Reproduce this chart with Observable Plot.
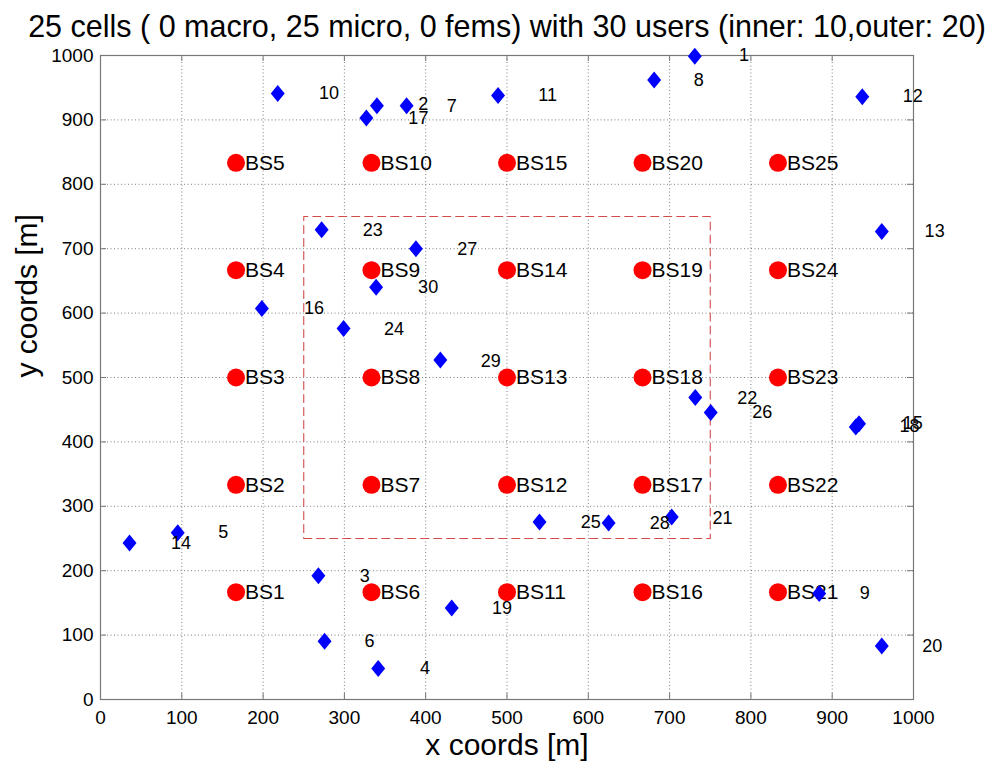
<!DOCTYPE html>
<html>
<head>
<meta charset="utf-8">
<script src="https://cdn.jsdelivr.net/npm/d3@7"></script>
<script src="https://cdn.jsdelivr.net/npm/@observablehq/plot@0.6"></script>
<style>
  html, body { margin: 0; padding: 0; background: #fff; }
  #chart { width: 1008px; height: 764px; }
</style>
</head>
<body>
<div id="chart"></div>
<script>
// Title and axis labels
const titleText = "25 cells ( 0 macro, 25 micro, 0 fems) with 30 users (inner: 10,outer: 20)";
const xLabel = "x coords [m]";
const yLabel = "y coords [m]";

// Axis ticks
const xTicks = [0, 100, 200, 300, 400, 500, 600, 700, 800, 900, 1000];
const yTicks = [0, 100, 200, 300, 400, 500, 600, 700, 800, 900, 1000];

// Base stations (micro cells)
const bsNames = ["BS1","BS2","BS3","BS4","BS5","BS6","BS7","BS8","BS9","BS10",
                 "BS11","BS12","BS13","BS14","BS15","BS16","BS17","BS18","BS19","BS20",
                 "BS21","BS22","BS23","BS24","BS25"];
const bsX = [166.7,166.7,166.7,166.7,166.7, 333.3,333.3,333.3,333.3,333.3,
             500,500,500,500,500, 666.7,666.7,666.7,666.7,666.7,
             833.3,833.3,833.3,833.3,833.3];
const bsY = [166.7,333.3,500,666.7,833.3, 166.7,333.3,500,666.7,833.3,
             166.7,333.3,500,666.7,833.3, 166.7,333.3,500,666.7,833.3,
             166.7,333.3,500,666.7,833.3];

// User positions
const userX = [218, 327, 340, 376.5, 489, 731, 681, 937, 272, 388,
               339, 198.5, 299, 418, 731.6, 750.6, 929, 933, 702.6, 625,
               540, 884, 961, 35.7, 95, 268, 432, 275.6, 341.6, 961];
const userY = [941, 903, 922, 922, 938, 999, 962, 936, 729.5, 700,
               640, 607, 576, 527, 469, 445.5, 423, 428, 283.4, 274,
               275.7, 164.5, 83, 243, 259, 192, 142, 90.5, 48, 726.6];

// User index labels
const labelText = ["1","2","3","4","5","6","7","8","9","10",
                   "11","12","13","14","15","16","17","18","19","20",
                   "21","22","23","24","25","26","27","28","29","30"];
const labelX = [791.5, 397, 325, 399, 151, 331, 432, 736, 940, 281,
                550, 999, 1026, 99, 999, 262.5, 391, 995, 494, 1023,
                765, 795.6, 335, 361, 603, 814, 451, 688, 480, 403];
const labelY = [1000, 925, 192, 48, 259, 90.5, 921, 962, 164.5, 941,
                938, 936, 727, 242, 429, 607, 902, 424, 142, 83,
                282, 468, 728, 575, 275.7, 445.5, 699, 274, 525.5, 640];

// Inner region boundary
const regionX = [250, 750, 750, 250, 250];
const regionY = [250, 250, 750, 750, 250];

const stations = bsNames.map((name, i) => ({name, x: bsX[i], y: bsY[i]}));
const users = userX.map((x, i) => ({x, y: userY[i]}));
const labels = labelText.map((t, i) => ({t, x: labelX[i], y: labelY[i]}));
const region = regionX.map((x, i) => ({x, y: regionY[i]}));

// Slightly elongated diamond marker
const tallDiamond = {
  draw(context, size) {
    const r = Math.sqrt(size / Math.PI);
    const w = r * 0.82;
    context.moveTo(0, -r);
    context.lineTo(w, 0);
    context.lineTo(0, r);
    context.lineTo(-w, 0);
    context.closePath();
  }
};

const font = "'Liberation Sans', Arial, Helvetica, sans-serif";

const chart = Plot.plot({
  width: 1008,
  height: 764,
  marginLeft: 100,
  marginRight: 95,
  marginTop: 55,
  marginBottom: 65,
  style: {fontFamily: font, fontSize: "19px", color: "#000", background: "#fff"},
  x: {domain: [0, 1000], ticks: xTicks, tickFormat: "d", tickSize: 0, tickPadding: 11, label: null},
  y: {domain: [0, 1000], ticks: yTicks, tickFormat: "d", tickSize: 0, tickPadding: 7, label: null},
  marks: [
    // dotted grid
    Plot.ruleX(xTicks, {x: d => d, stroke: "#000", strokeOpacity: 0.5, strokeDasharray: "1,2.5"}),
    Plot.ruleY(yTicks, {y: d => d, stroke: "#000", strokeOpacity: 0.5, strokeDasharray: "1,2.5"}),
    Plot.frame({stroke: "#777", strokeWidth: 1.2}),
    // inward tick marks on all four sides
    Plot.ruleX(xTicks, {x: d => d, y1: 0, y2: 0, insetTop: -6, stroke: "#777"}),
    Plot.ruleX(xTicks, {x: d => d, y1: 1000, y2: 1000, insetBottom: -6, stroke: "#777"}),
    Plot.ruleY(yTicks, {y: d => d, x1: 0, x2: 0, insetRight: -6, stroke: "#777"}),
    Plot.ruleY(yTicks, {y: d => d, x1: 1000, x2: 1000, insetLeft: -6, stroke: "#777"}),
    // inner region
    Plot.line(region, {x: "x", y: "y", stroke: "#d24a4a", strokeWidth: 1.1, strokeDasharray: "8,5"}),
    // base stations
    Plot.dot(stations, {x: "x", y: "y", r: 9, fill: "#ff0000", stroke: "none"}),
    Plot.text(stations, {x: "x", y: "y", text: "name", textAnchor: "start", dx: 9, fontSize: 21, fill: "#000"}),
    // users
    Plot.dot(users, {x: "x", y: "y", r: 8.5, symbol: tallDiamond, fill: "#0000ff", stroke: "none"}),
    Plot.text(labels, {x: "x", y: "y", text: "t", fontSize: 18, fill: "#000"}),
    // title and axis labels
    Plot.text([titleText], {frameAnchor: "top", lineAnchor: "middle", dy: -28, fontSize: 30.5, fill: "#000"}),
    Plot.text([xLabel], {frameAnchor: "bottom", lineAnchor: "middle", dy: 46, fontSize: 30, fill: "#000"}),
    Plot.text([yLabel], {frameAnchor: "left", lineAnchor: "middle", dx: -73, rotate: -90, fontSize: 30, fill: "#000"})
  ]
});

document.getElementById("chart").appendChild(chart);
</script>
</body>
</html>
